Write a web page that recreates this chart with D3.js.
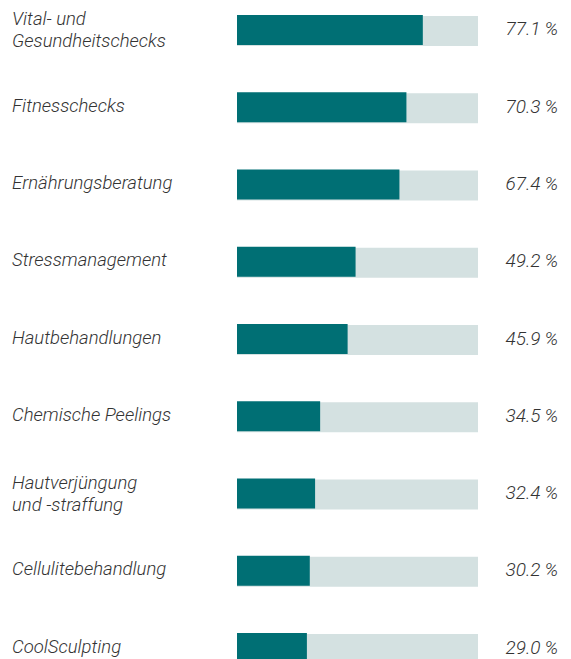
<!DOCTYPE html>
<html>
<head>
<meta charset="utf-8">
<script src="https://cdn.jsdelivr.net/npm/d3@7"></script>
<style>
  html, body { margin: 0; padding: 0; background: #ffffff; }
  svg { display: block; }
  text { font-family: Roboto, "Liberation Sans", sans-serif; font-style: italic; font-weight: 300; fill: #333333; }
</style>
</head>
<body>
<script>
const categories = [
  ["Vital- und", "Gesundheitschecks"],
  ["Fitnesschecks"],
  ["Ernährungsberatung"],
  ["Stressmanagement"],
  ["Hautbehandlungen"],
  ["Chemische Peelings"],
  ["Hautverjüngung", "und -straffung"],
  ["Cellulitebehandlung"],
  ["CoolSculpting"]
];
const values = [77.1, 70.3, 67.4, 49.2, 45.9, 34.5, 32.4, 30.2, 29.0];
const maxValue = 100;

const W = 571, H = 659;
const svg = d3.select("body").append("svg").attr("width", W).attr("height", H);

const keys = categories.map(c => c.join(" "));
const y = d3.scaleBand().domain(keys).range([15, 663]).paddingInner(0.6117).paddingOuter(0);
const x = d3.scaleLinear().domain([0, maxValue]).range([237, 478]);

const rows = svg.selectAll("g.row").data(keys.map((k, i) => ({ k, lines: categories[i], v: values[i] })))
  .enter().append("g").attr("class", "row");

rows.append("rect")
  .attr("x", x(0)).attr("y", d => y(d.k) + 1)
  .attr("width", x(maxValue) - x(0)).attr("height", y.bandwidth())
  .attr("fill", "#d4e1e1");

rows.append("rect")
  .attr("x", x(0)).attr("y", d => y(d.k))
  .attr("width", d => x(d.v) - x(0)).attr("height", y.bandwidth())
  .attr("fill", "#006f74");

rows.each(function(d) {
  const g = d3.select(this);
  const c = y(d.k) + y.bandwidth() / 2;
  const t = g.append("text").attr("x", 12).attr("font-size", 18.5);
  if (d.lines.length === 1) {
    t.append("tspan").attr("x", 12).attr("y", c + 4.5).text(d.lines[0]);
  } else {
    t.append("tspan").attr("x", 12).attr("y", c - 5).text(d.lines[0]);
    t.append("tspan").attr("x", 12).attr("y", c + 17.5).text(d.lines[1]);
  }
  g.append("text").attr("x", 558).attr("y", c + 5.5)
    .attr("text-anchor", "end").attr("font-size", 19)
    .text(d.v.toFixed(1) + "\u2009%");
});
</script>
</body>
</html>
